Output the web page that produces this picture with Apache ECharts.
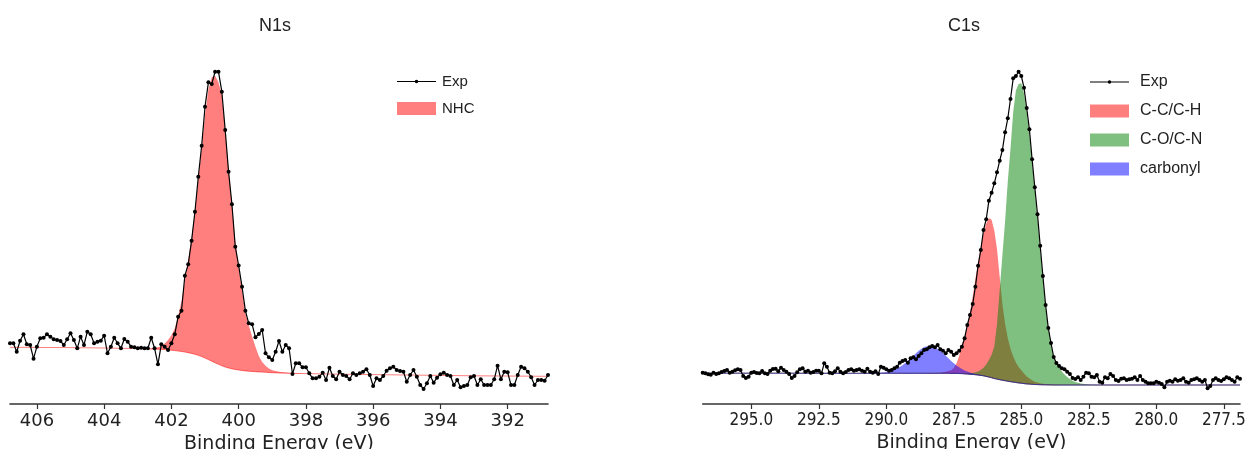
<!DOCTYPE html>
<html><head><meta charset="utf-8">
<script src="https://cdn.jsdelivr.net/npm/echarts@6/dist/echarts.min.js"></script>
<style>html,body{margin:0;padding:0;background:#fff}#c{width:1245px;height:449px}</style>
</head><body><div id="c"></div>
<script>
// ---------- N1s panel ----------
const N1S_START = 406.8, N1S_STEP = 0.1;           // binding energy grid of the measured spectrum (eV)
const N1S_EXP = [
 60.7,60.7,52.3,63.3,69.7,59.7,59,45.3,57.3,65.7,
 66.3,69.7,67.3,64.7,64,63,59,64.7,70.7,64,
 55.7,67.3,59,72.3,69.7,60.7,62.3,63.3,68.3,50.7,
 57.3,66.3,60.7,55.7,65,62.3,57.3,56.7,55.7,56.3,
 55.7,55.7,66.3,55.7,39.7,59.7,57.3,54,60.7,69.7,
 87.3,93.3,128.3,139.7,163.3,192.3,227.3,258.3,297.3,321.7,
 320,332.3,332.3,312.3,274,232.3,199.7,157.3,138.5,117.3,
 93.3,80.7,79.7,66.7,70,74,50.7,46.7,44,52.3,
 63,52.3,59,55.7,30,40.7,40.7,36.7,36.7,30.7,
 25.7,25.7,27.3,31.3,24,36.3,28,24.7,32.3,29,
 28,24.7,30.7,29,30.7,32.3,34.7,29,18,25.7,
 24,28,33.3,35.7,37.3,34,33,32.3,22.3,29,
 34,27.3,19,15,20.7,28,21.3,26.3,29.7,31.3,
 29,28,19,24,16.7,18,19,26.7,28,19,
 24.7,19,19,19,24.7,38.3,24.7,32.3,31.7,19,
 19,29,37.3,35.7,32.3,26.7,19,24,24,23.3,
 29];
const N1S_FIT_E = [406.8,405.0,404.0,403.0,402.6,
 402.4,402.3,402.2,402.1,402.0,401.9,401.8,401.7,401.6,401.5,
 401.4,401.3,401.2,401.1,401.0,400.9,400.8,400.7,400.6,400.5,
 400.4,400.3,400.2,400.1,400.0,399.9,399.8,399.7,399.6,399.5,
 399.4,399.3,399.2,399.1,399.0,
 398.8,398.5,398.0,397.0,395.0,393.0,390.8];
const N1S_BG = [56.7,56.4,56.0,55.4,55.0,
 54.8,54.6,54.4,54.1,53.8,53.4,53.0,52.5,52.0,51.3,
 50.6,49.7,48.7,47.4,46.0,44.4,42.8,41.2,39.7,38.3,
 37.0,36.0,35.2,34.5,34.0,33.5,33.1,32.8,32.5,32.3,
 32.1,31.9,31.7,31.5,31.3,
 31.0,30.7,30.4,29.8,29.0,28.2,27.7];
const N1S_NHC = [0,0,0,0.1,0.5,
 2,3.5,6,10,15,22,35,50,71,93,
 115,143,176,208,243,270,284,287,282,271,
 238,200,164,128,103,80,58,46,35,25,
 16,10,6.5,4,2.5,
 1.2,0.5,0.2,0,0,0,0];
const N1S_TICKS = [406,404,402,400,398,396,394,392];

// ---------- C1s panel ----------
const C1S_START = 296.8, C1S_STEP = 0.1;
const C1S_EXP = [
 31.3,30.7,29.7,29.3,31.3,30,30.7,32,33,34,
 31.3,32.3,33.7,34.7,34,28,26,27.3,31.3,32,
 31,30.7,33,30.7,30,33.3,35,35.3,32.7,36.3,
 34,32.3,30,26,28,31.7,34.7,35.7,32.3,33.3,
 31.3,32,33.3,33.3,30.7,40.7,37.3,31.3,30.7,32.7,
 35.7,32.3,30.7,32,34,34.7,33.3,34,34.7,33.3,
 32.3,35.3,32.3,31.3,32.7,30,37.3,36.3,34.7,33.3,
 34,35.7,37.3,41.3,43,44,41.3,45.7,46.7,44.7,
 48,50.7,54,54.7,56.7,58,56.7,59,54.7,53.3,
 50.7,54,52.3,49,50.7,53.3,57.3,65.7,79,89,
 100,117.3,138.3,154,174,184.7,203.3,211.3,220.7,231.7,
 243.3,254,271.7,285.7,305,325.7,328,332.3,328,316.3,
 296,274.7,244.7,216.7,189.7,158.3,128,99,76,61,
 47,41,38,35.7,34.7,32.3,30,26,25,26.7,
 24,27.3,31.3,30.7,27.3,26.7,29,22.3,21.3,26.7,
 25.7,30,28,24,23,25.3,25.7,24,24.7,25.3,
 26.7,24,28,24,22.3,20.7,20.7,20.7,22.3,21.3,
 20,16.7,22.3,23.3,22.3,24.7,23.3,24,25.7,22.3,
 21.3,24,24.7,25.7,24,22.3,24,15.7,18,24,
 25.7,24,23,24.7,26.7,25.7,24,22.3,26.7,25.3];
const C1S_FIT_E = [296.8,294.0,292.0,291.0,290.6,
 290.4,290.2,290.0,289.8,289.6,289.4,289.2,289.0,288.8,288.6,288.4,288.2,288.0,
 287.9,287.8,287.7,287.6,287.5,287.4,287.3,287.2,287.1,287.0,
 286.9,286.8,286.7,286.6,286.5,286.4,286.3,286.2,286.1,286.0,
 285.9,285.8,285.7,285.6,285.5,285.4,285.3,285.2,285.1,285.0,
 284.9,284.8,284.7,284.6,284.5,284.4,284.3,284.2,284.1,284.0,
 283.9,283.8,283.7,283.6,283.5,283.4,283.3,283.2,283.1,283.0,
 282.8,282.6,282.4,282.0,281.0,279.0,276.9];
const C1S_BG = [30.8,30.8,30.7,30.7,30.7,
 30.7,30.7,30.7,30.7,30.7,30.7,30.7,30.7,30.7,30.7,30.7,30.7,30.7,
 30.7,30.7,30.7,30.6,30.6,30.6,30.5,30.4,30.2,30.0,
 29.8,29.6,29.3,29.0,28.6,28.2,27.6,27.0,26.3,25.5,
 24.9,24.3,23.8,23.3,22.8,22.3,21.9,21.5,21.1,20.8,
 20.4,20.1,19.9,19.7,19.5,19.4,19.3,19.2,19.2,19.1,
 19.1,19.0,19.0,19.0,19.0,19.0,19.0,19.0,19.0,19.0,
 19.0,19.0,19.0,19.0,19.0,19.0,19.0];
const C1S_CC = [0,0,0,0,0,
 0,0,0,0,0,0,0,0,0,0.1,0.2,0.3,0.5,
 1,1.5,2.2,3.2,5.5,10,18,28,38,49,
 62,78,96,113,129,143,153,159,158,148,
 130,103,76,57,43,33,25.5,20,16,13,
 10,7.5,5.5,4,2.8,2,1.4,1,0.7,0.5,
 0.4,0.3,0.2,0.2,0.1,0,0,0,0,0,
 0,0,0,0,0,0,0];
const C1S_CO = [0,0,0,0,0,
 0,0,0,0,0,0,0,0,0,0,0,0,0,
 0,0,0,0,0,0,0,0,0.2,0.5,
 1,1.5,2.5,3.5,5.5,8,12,17,23,32,
 55,90,125,160,200,233,270,292,299,300,
 290,272,250,222,194,166,135,105,77,56,
 41,27,22,17.5,13.5,10.5,8,6,4.2,3,
 1.5,0.7,0.3,0,0,0,0];
const C1S_CARB = [0,0,0,0,0.1,
 0.2,0.5,1.2,2.5,4.7,8.0,12.5,17.6,22.6,26.2,27.5,26.2,22.6,
 20.2,17.6,15.0,12.5,10.1,8.0,6.2,4.7,3.4,2.5,
 1.7,1.2,0.8,0.5,0.3,0.2,0.1,0,0,0,
 0,0,0,0,0,0,0,0,0,0,
 0,0,0,0,0,0,0,0,0,0,
 0,0,0,0,0,0,0,0,0,0,
 0,0,0,0,0,0,0];
const C1S_TICKS = [295.0,292.5,290.0,287.5,285.0,282.5,280.0,277.5];

// ---------- helpers ----------
const grid1 = (start, step, vals) => vals.map((v, i) => [+(start - step * i).toFixed(2), v]);
const zip = (xs, ys) => xs.map((x, i) => [x, ys[i]]);

const RED = 'rgba(255,0,0,0.5)', GREEN = 'rgba(0,128,0,0.5)', BLUE = 'rgba(0,0,255,0.5)';
const EXP_ICON = 'path://M0,0L0.01,0L0,0.01ZM39,13L38.99,13L39,12.99ZM0,5.9H39V7.1H0ZM21.3,6.5A1.8,1.8,0,1,1,17.7,6.5A1.8,1.8,0,1,1,21.3,6.5Z';

// fitted component: filled between the background and background + component
function fillSeries(name, fitE, bg, comp, color, xi) {
  const rows = fitE.map((e, i) => [e, bg[i], bg[i] + comp[i]]);
  return {name: name, type: 'custom', xAxisIndex: xi, yAxisIndex: xi, silent: true, z: 1,
    color: color, itemStyle: {color: color},
    encode: {x: 0, y: [1, 2]}, data: rows,
    renderItem: function (params, api) {
      if (params.dataIndex !== 0) return null;
      const top = rows.map(r => api.coord([r[0], r[2]]));
      const bot = rows.slice().reverse().map(r => api.coord([r[0], r[1]]));
      return {type: 'polygon', shape: {points: top.concat(bot)}, style: {fill: color}};
    }};
}
function bgLine(name, fitE, bg, color, xi) {
  return {name: name, type: 'line', xAxisIndex: xi, yAxisIndex: xi, data: zip(fitE, bg),
    symbol: 'none', silent: true, lineStyle: {color: color, width: 1}, itemStyle: {color: color}, z: 2};
}
function expSeries(start, step, vals, xi) {
  return {name: 'Exp', type: 'line', xAxisIndex: xi, yAxisIndex: xi,
    data: grid1(start, step, vals), symbol: 'circle', symbolSize: 4, silent: true,
    color: '#000', itemStyle: {color: '#000', borderWidth: 0},
    lineStyle: {color: '#000', width: 1.2}, z: 3};
}
function xAxisCfg(min, max, ticks, gi, fmt, labelFont, labelSize) {
  return {type: 'value', gridIndex: gi, min: min, max: max, inverse: true,
    name: 'Binding Energy (eV)', nameLocation: 'middle', nameGap: 25,
    nameTextStyle: {fontFamily: 'DejaVu Sans', fontSize: 19, color: '#222'},
    axisLine: {show: true, onZero: false, lineStyle: {color: '#333', width: 1.6}},
    axisTick: {show: true, length: 5, customValues: ticks, lineStyle: {color: '#333', width: 1.2}},
    axisLabel: {customValues: ticks, formatter: fmt, margin: 8,
      fontFamily: labelFont, fontSize: labelSize, color: '#222'},
    splitLine: {show: false}};
}
const legendText = (size, pad) => ({fontFamily: 'Liberation Sans', fontSize: size, color: '#222', padding: [0, 0, 0, pad]});

const option = {
  animation: false,
  backgroundColor: '#fff',
  title: [
    {text: 'N1s', left: 270, top: 12, textAlign: 'center',
     textStyle: {fontFamily: 'Liberation Sans', fontSize: 18, fontWeight: 'normal', color: '#222'}},
    {text: 'C1s', left: 959, top: 12, textAlign: 'center',
     textStyle: {fontFamily: 'Liberation Sans', fontSize: 18, fontWeight: 'normal', color: '#222'}}
  ],
  grid: [
    {left: 10, top: 54, width: 538, height: 350, outerBoundsMode: 'none', containLabel: false},
    {left: 702.7, top: 54, width: 537.3, height: 350, outerBoundsMode: 'none', containLabel: false}
  ],
  xAxis: [
    xAxisCfg(390.8, 406.8, N1S_TICKS, 0, v => String(v), 'DejaVu Sans', 18),
    xAxisCfg(276.9, 296.8, C1S_TICKS, 1, v => v.toFixed(1), "'DejaVu Sans Condensed', 'DejaVu Sans'", 17)
  ],
  yAxis: [
    {type: 'value', gridIndex: 0, min: 0, max: 350, show: false},
    {type: 'value', gridIndex: 1, min: 0, max: 350, show: false}
  ],
  legend: [
    {orient: 'vertical', left: 397, top: 74, padding: 0, itemWidth: 39, itemHeight: 13, itemGap: 12,
     selectedMode: false, textStyle: legendText(15, 1),
     data: [{name: 'Exp', icon: EXP_ICON}, {name: 'NHC', icon: 'rect'}]},
    {orient: 'vertical', left: 1090, top: 74, padding: 0, itemWidth: 39, itemHeight: 13, itemGap: 13,
     selectedMode: false, textStyle: legendText(16, 6),
     data: [{name: 'Exp', icon: EXP_ICON}, {name: 'C-C/C-H', icon: 'rect'},
            {name: 'C-O/C-N', icon: 'rect'}, {name: 'carbonyl', icon: 'rect'}]}
  ],
  series: [
    fillSeries('NHC', N1S_FIT_E, N1S_BG, N1S_NHC, RED, 0),
    bgLine('bgN', N1S_FIT_E, N1S_BG, RED, 0),
    expSeries(N1S_START, N1S_STEP, N1S_EXP, 0),
    fillSeries('C-C/C-H', C1S_FIT_E, C1S_BG, C1S_CC, RED, 1),
    fillSeries('C-O/C-N', C1S_FIT_E, C1S_BG, C1S_CO, GREEN, 1),
    fillSeries('carbonyl', C1S_FIT_E, C1S_BG, C1S_CARB, BLUE, 1),
    bgLine('bgC1', C1S_FIT_E, C1S_BG, RED, 1),
    bgLine('bgC2', C1S_FIT_E, C1S_BG, GREEN, 1),
    bgLine('bgC3', C1S_FIT_E, C1S_BG, BLUE, 1),
    expSeries(C1S_START, C1S_STEP, C1S_EXP, 1)
  ]
};
const chart = echarts.init(document.getElementById('c'), null, {renderer: 'canvas'});
chart.setOption(option);
</script></body></html>
